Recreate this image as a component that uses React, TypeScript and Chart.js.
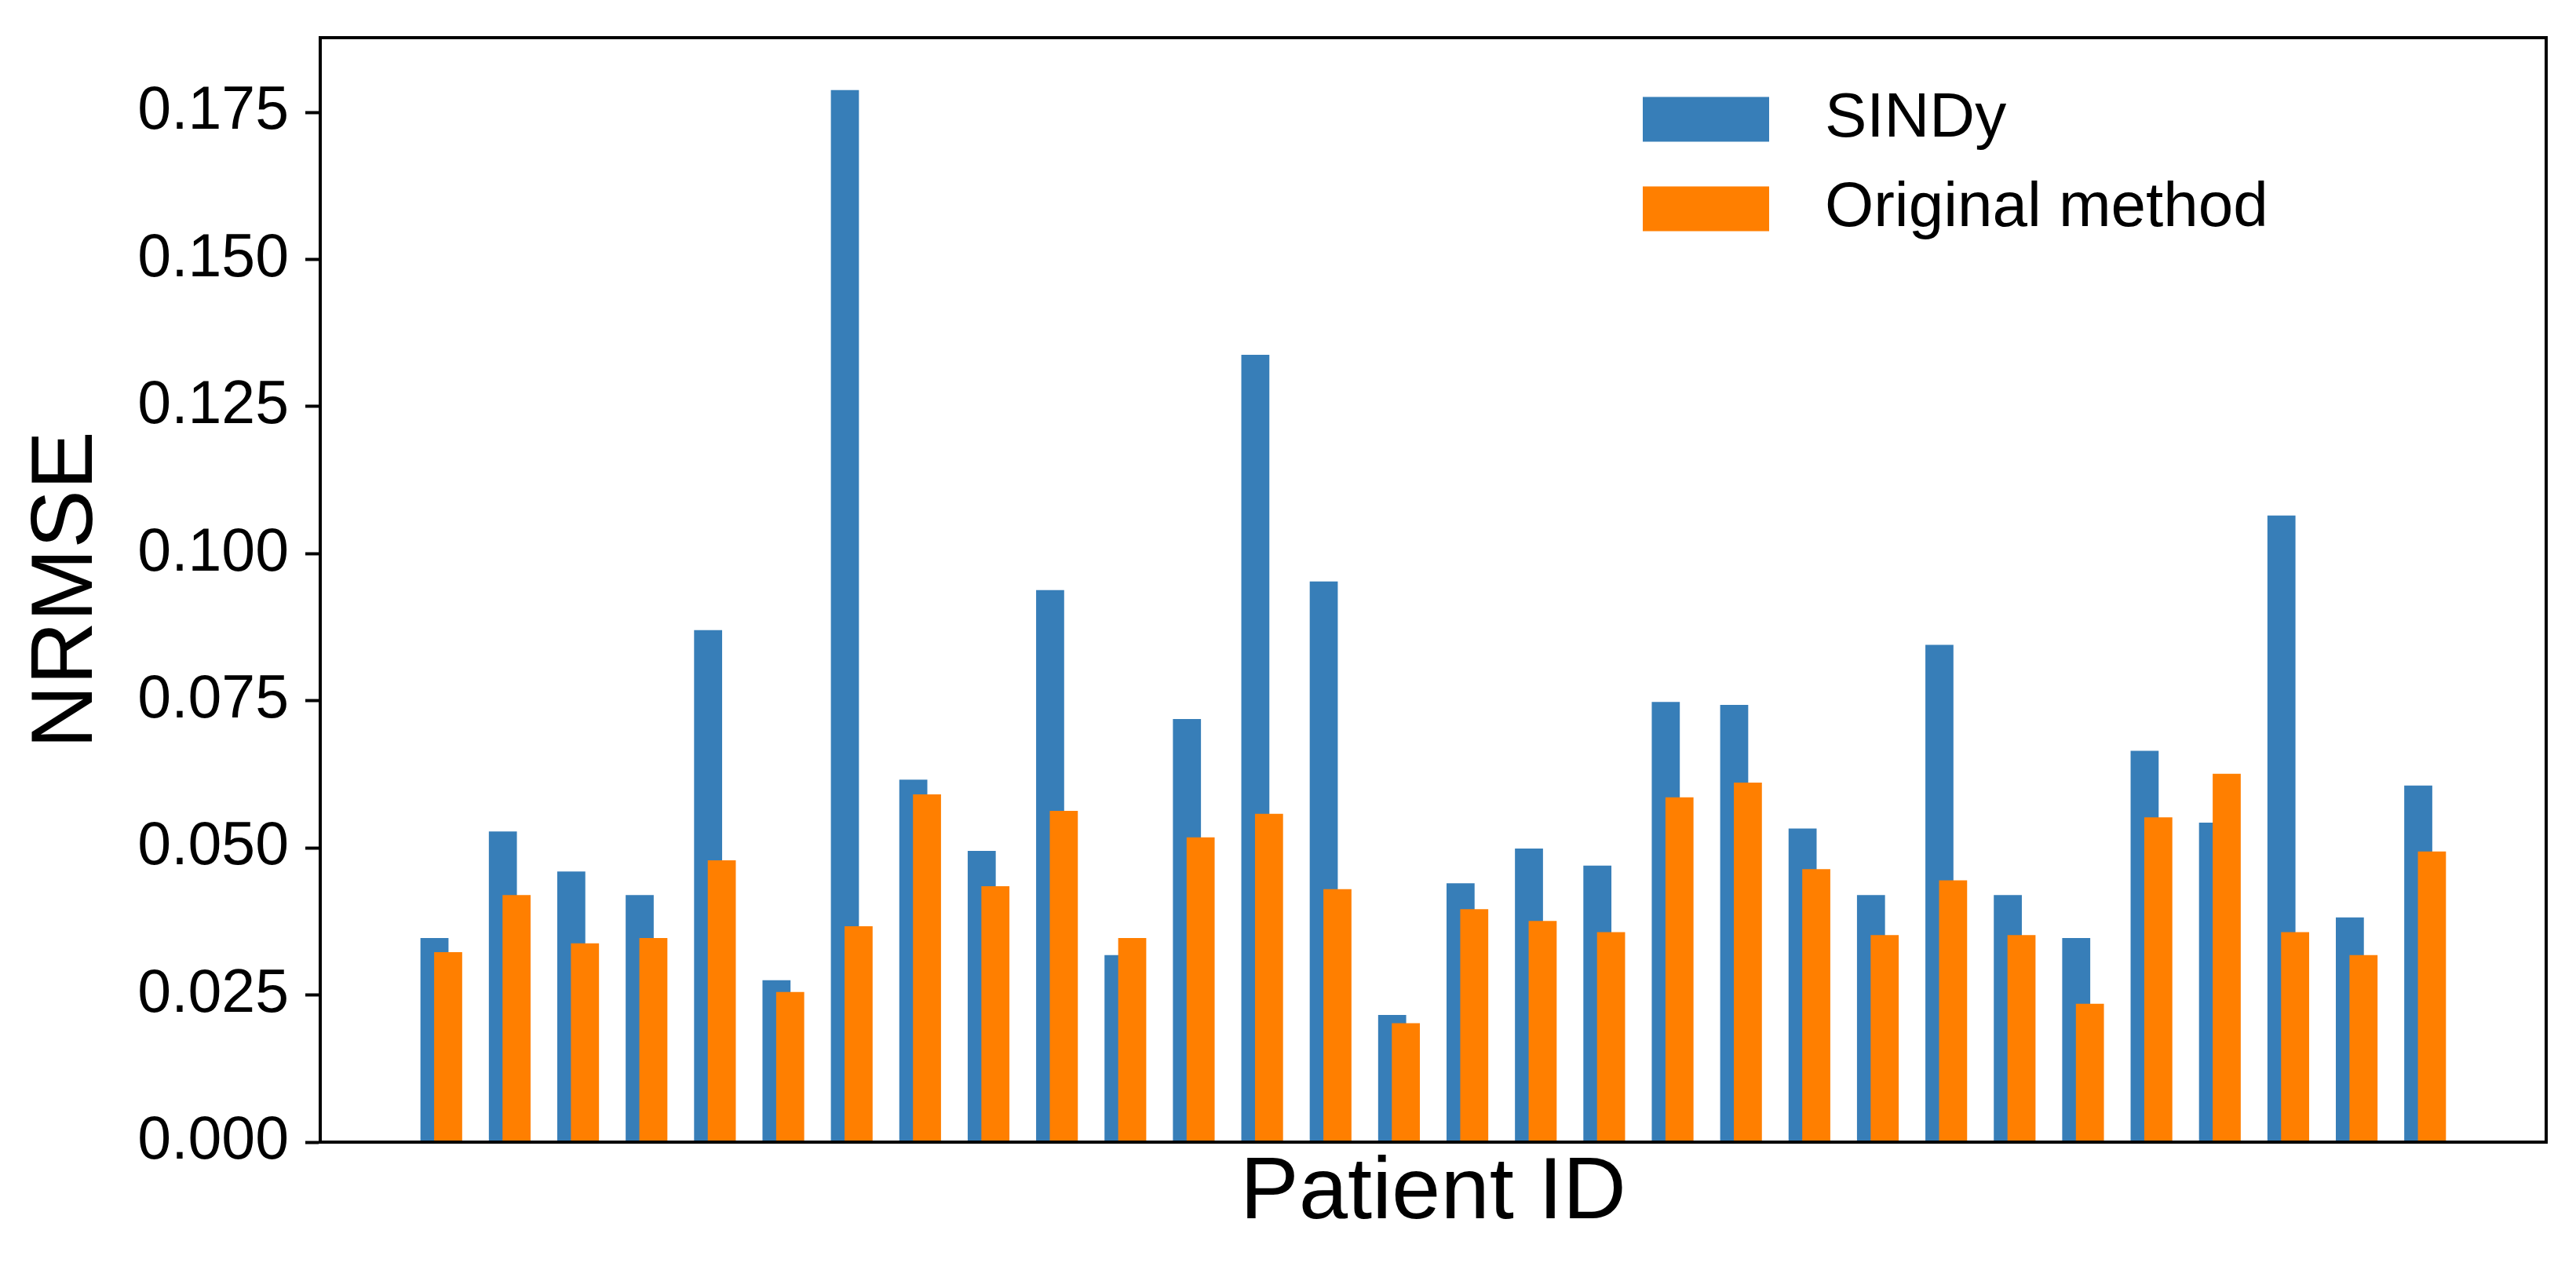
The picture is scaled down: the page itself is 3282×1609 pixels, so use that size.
import { useEffect, useRef } from 'react';
import { Chart, registerables } from 'chart.js';

Chart.register(...registerables);

// Patient IDs along the x axis (the axis itself carries no tick labels)
const patientIds = [
  1, 2, 3, 4, 5, 6, 7, 8, 9, 10,
  11, 12, 13, 14, 15, 16, 17, 18, 19, 20,
  21, 22, 23, 24, 25, 26, 27, 28, 29, 30
];

// NRMSE per patient
const sindyErrors = [
  0.0347, 0.0528, 0.0460, 0.0420, 0.0870, 0.0275, 0.1788, 0.0616, 0.0495, 0.0938,
  0.0318, 0.0719, 0.1338, 0.0953, 0.0216, 0.0440, 0.0499, 0.0470, 0.0748, 0.0743,
  0.0533, 0.0420, 0.0845, 0.0420, 0.0347, 0.0665, 0.0543, 0.1065, 0.0382, 0.0606
];

const originalErrors = [
  0.0323, 0.0420, 0.0338, 0.0347, 0.0479, 0.0255, 0.0367, 0.0591, 0.0435, 0.0563,
  0.0347, 0.0518, 0.0558, 0.0430, 0.0202, 0.0396, 0.0376, 0.0357, 0.0586, 0.0611,
  0.0464, 0.0352, 0.0445, 0.0352, 0.0235, 0.0552, 0.0626, 0.0357, 0.0318, 0.0494
];

const seriesLabels = ['SINDy', 'Original method'];
const seriesColors = ['#377eb8', '#ff7f00'];

const Y_MAX = 0.1877;
const Y_STEP = 0.025;

const X_MARGIN = 1.77;   // empty space left/right of the bars, in patient units
const BAR_SHIFT = 0.1;   // each series is shifted this far from the patient position
const BAR_WIDTH = 0.41;  // bar width in patient units (bars overlap)

const FONT = '"Liberation Sans", Arial, Helvetica, sans-serif';

// frame around the plot + legend in the upper right corner
const frameLegendPlugin = {
  id: 'frameLegend',
  afterDatasetsDraw(chart: Chart) {
    const { ctx, chartArea } = chart;
    ctx.save();
    ctx.strokeStyle = '#000';
    ctx.lineWidth = 4;
    ctx.strokeRect(
      chartArea.left,
      chartArea.top,
      chartArea.right - chartArea.left,
      chartArea.bottom - chartArea.top
    );

    const boxX = chartArea.left + 1685;
    const boxW = 161;
    const boxH = 57;
    const textX = chartArea.left + 1917;
    ctx.font = `80px ${FONT}`;
    ctx.textBaseline = 'middle';
    ctx.textAlign = 'left';
    chart.data.datasets.forEach((ds, i) => {
      const cy = chartArea.top + 104 + i * 114;
      ctx.fillStyle = ds.backgroundColor as string;
      ctx.fillRect(boxX, cy - boxH / 2, boxW, boxH);
      ctx.fillStyle = '#000';
      ctx.fillText(ds.label ?? '', textX, cy);
    });
    ctx.restore();
  }
};

const NrmseChart = () => {
  const canvasRef = useRef<HTMLCanvasElement | null>(null);
  const chartRef = useRef<Chart | null>(null);

  useEffect(() => {
    if (!canvasRef.current) return;
    if (chartRef.current) chartRef.current.destroy();

    const ctx = canvasRef.current.getContext('2d');
    if (!ctx) return;

    const lo = patientIds[0] - X_MARGIN;
    const hi = patientIds[patientIds.length - 1] + X_MARGIN;

    // SINDy on axis "x" (shifted left), original method on "x2" (shifted right)
    const axisIds = ['x', 'x2'];
    const datasets = [sindyErrors, originalErrors].map((values, i) => ({
      label: seriesLabels[i],
      data: patientIds.map((id, j) => ({ x: id, y: values[j] })),
      xAxisID: axisIds[i],
      backgroundColor: seriesColors[i],
      borderWidth: 0,
      grouped: false,
      categoryPercentage: 1,
      barPercentage: BAR_WIDTH,
      order: i === 0 ? 1 : 0 // orange drawn on top of blue
    }));

    const hiddenTicks = { display: false, stepSize: 1, includeBounds: false };

    chartRef.current = new Chart(ctx, {
      type: 'bar',
      data: { datasets },
      plugins: [frameLegendPlugin],
      options: {
        animation: false,
        responsive: true,
        maintainAspectRatio: false,
        layout: { padding: { left: 0, top: 48, right: 38, bottom: 0 } },
        plugins: {
          legend: { display: false },
          tooltip: { enabled: true }
        },
        scales: {
          x: {
            type: 'linear',
            offset: false,
            min: lo + BAR_SHIFT,
            max: hi + BAR_SHIFT,
            grid: { display: false },
            border: { display: true, color: '#000', width: 4 },
            ticks: hiddenTicks,
            title: {
              display: true,
              text: 'Patient ID',
              color: '#000',
              font: { family: FONT, size: 112, lineHeight: 1 },
              padding: { top: 0, bottom: 32 }
            },
            afterFit: (scale: any) => {
              scale.height = 154;
              scale.paddingLeft = 0;
              scale.paddingRight = 0;
            }
          },
          x2: {
            type: 'linear',
            display: false,
            offset: false,
            min: lo - BAR_SHIFT,
            max: hi - BAR_SHIFT,
            grid: { display: false },
            ticks: hiddenTicks
          },
          y: {
            min: 0,
            max: Y_MAX,
            grid: {
              drawOnChartArea: false,
              drawTicks: true,
              tickLength: 19,
              tickWidth: 4,
              tickColor: '#000'
            },
            border: { display: true, color: '#000', width: 4 },
            ticks: {
              stepSize: Y_STEP,
              includeBounds: false,
              color: '#000',
              padding: 21,
              font: { family: FONT, size: 77 },
              callback: (value: any) => Number(value).toFixed(3)
            },
            title: {
              display: true,
              text: 'NRMSE',
              color: '#000',
              font: { family: FONT, size: 112, lineHeight: 1 },
              padding: { top: 30, bottom: 0 }
            },
            afterFit: (scale: any) => {
              scale.width = 408;
              scale.paddingTop = 0;
              scale.paddingBottom = 0;
            }
          }
        }
      }
    });

    return () => {
      if (chartRef.current) {
        chartRef.current.destroy();
        chartRef.current = null;
      }
    };
  }, []);

  return (
    <div style={{ position: 'fixed', left: 0, top: 0, width: 3282, height: 1609, background: '#fff' }}>
      <canvas ref={canvasRef} />
    </div>
  );
};

export default function App() {
  return <NrmseChart />;
}
